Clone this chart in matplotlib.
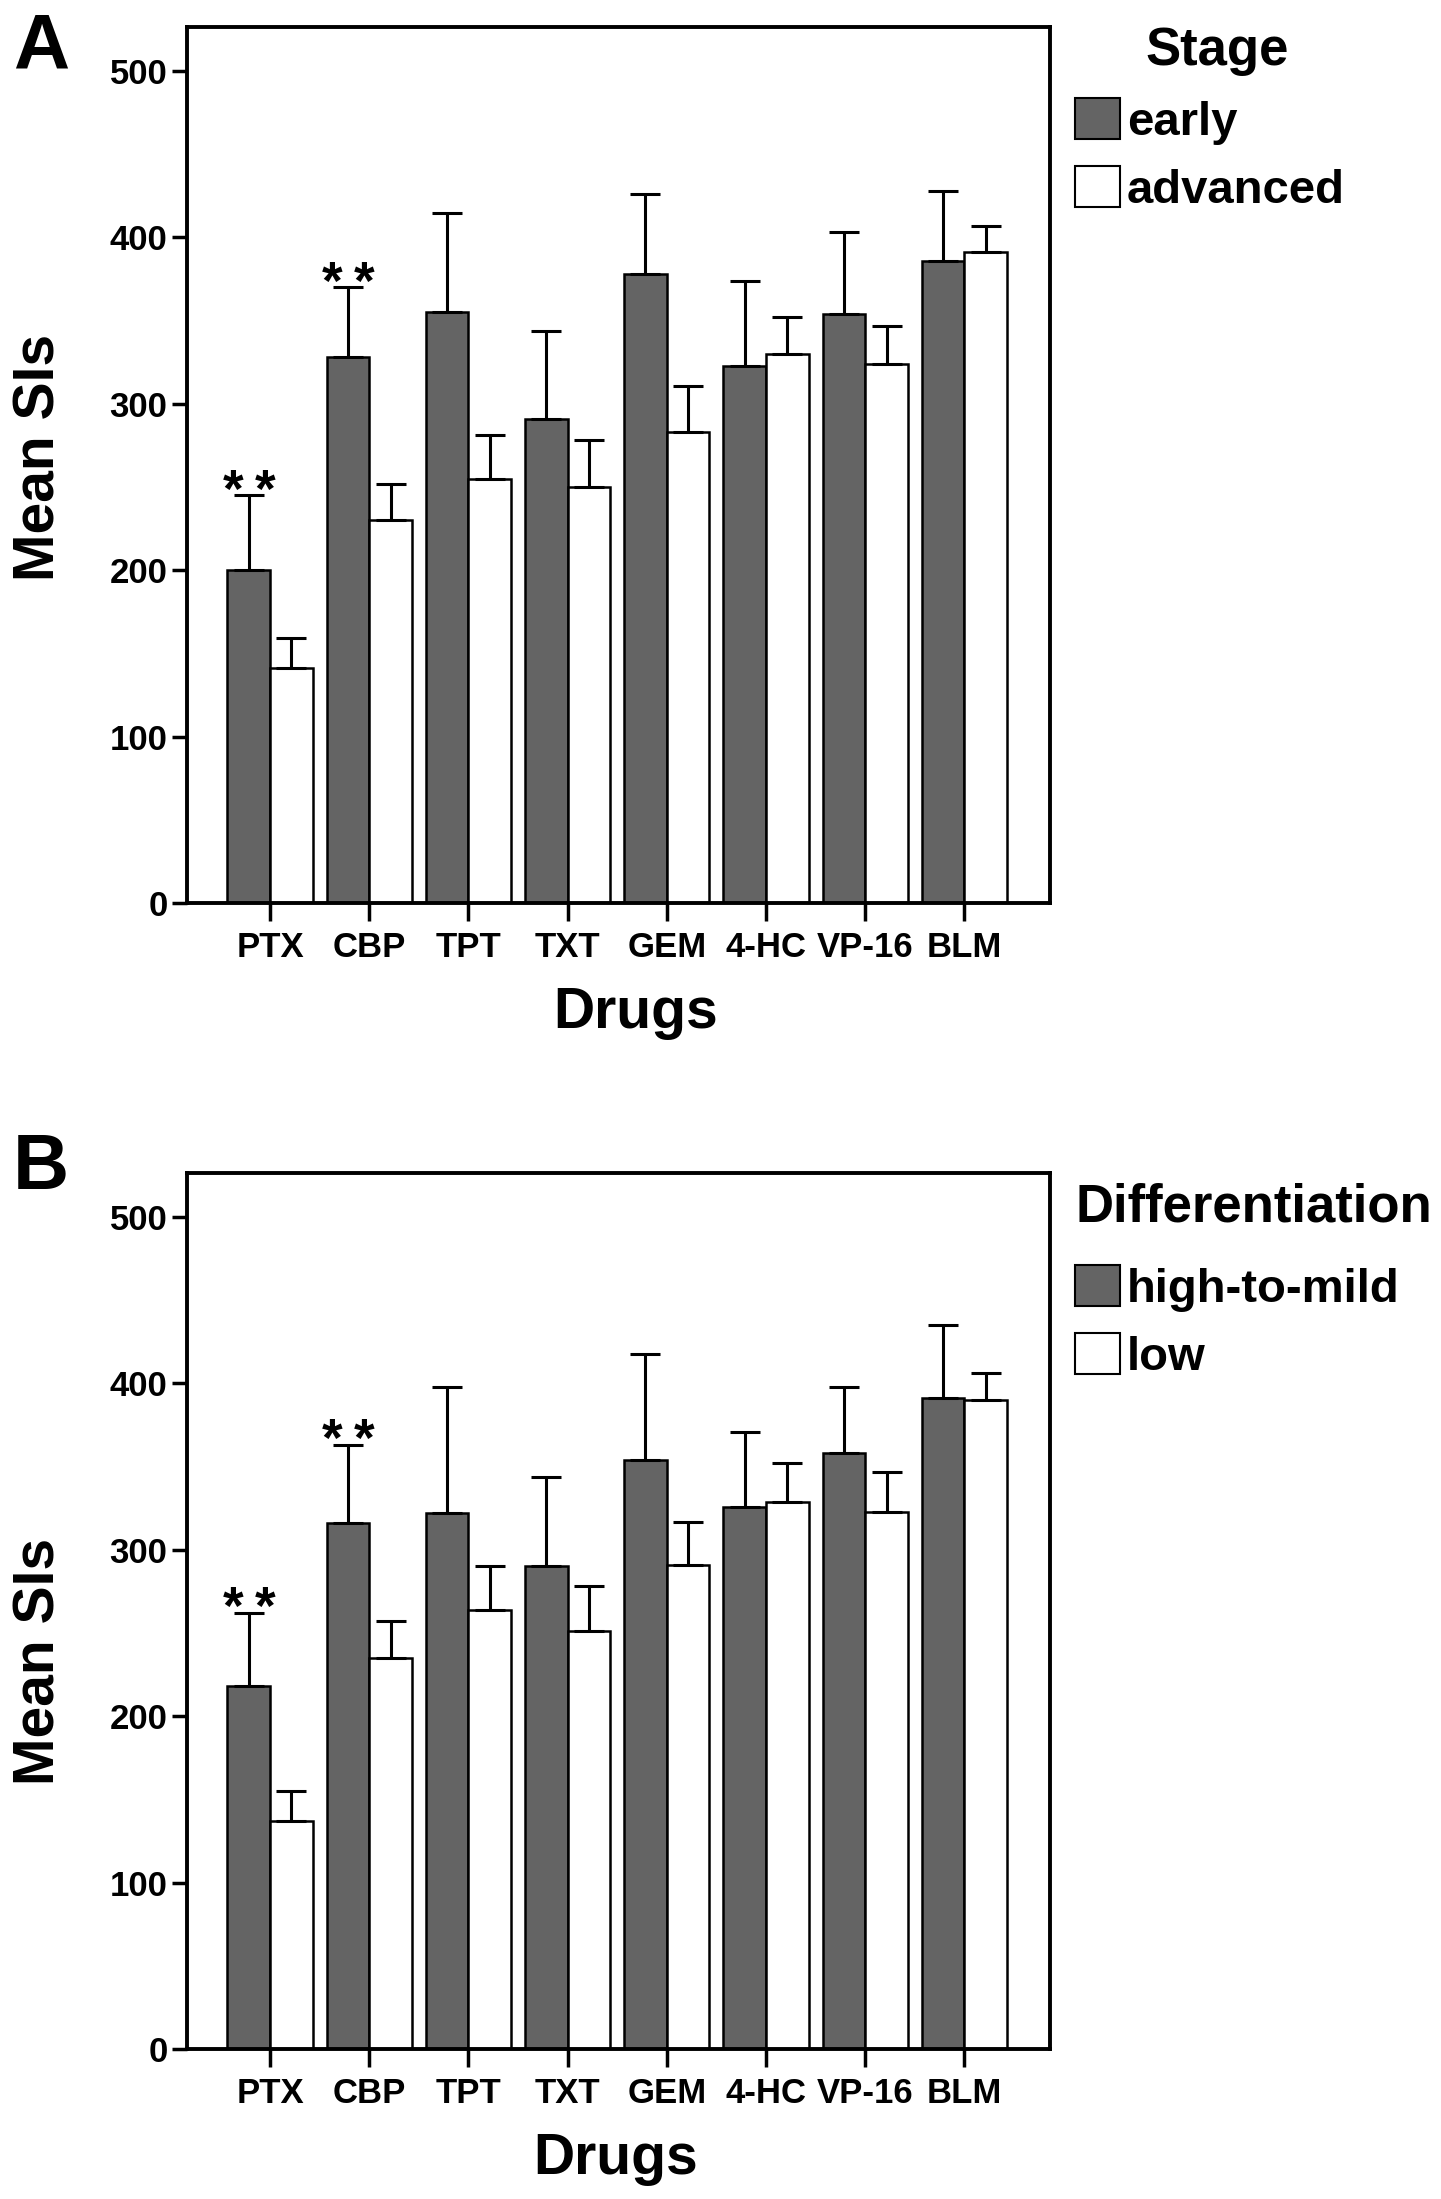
import numpy as np
import matplotlib
matplotlib.use("Agg")
import matplotlib.pyplot as plt
from matplotlib.patches import Patch

plt.rcParams['font.family'] = ['Liberation Sans', 'DejaVu Sans']
plt.rcParams['font.weight'] = 'bold'

drugs = ["PTX", "CBP", "TPT", "TXT", "GEM", "4-HC", "VP-16", "BLM"]

# panel A: stage
stage_early = [200, 328, 355, 291, 378, 323, 354, 386]
stage_early_top = [245, 370, 415, 344, 426, 374, 403, 428]
stage_adv = [141, 230, 255, 250, 283, 330, 324, 391]
stage_adv_top = [159, 252, 281, 278, 311, 352, 347, 407]

# panel B: differentiation
diff_high = [218, 316, 322, 290, 354, 326, 358, 391]
diff_high_top = [262, 363, 398, 344, 418, 371, 398, 435]
diff_low = [137, 235, 264, 251, 291, 329, 323, 390]
diff_low_top = [155, 257, 290, 278, 317, 352, 347, 406]

stars = [0, 1]  # drugs with ** over the first bar

W, H = 1441, 2199
fig = plt.figure(figsize=(W / 100, H / 100), dpi=100)

gray = "#646464"
bw = 0.43


def panel(rect, a, a_top, b, b_top, labels, title, title_xy, title_ha, leg_y, ylab_y, xlab_xy, letter, letter_y):
    ax = fig.add_axes(rect)
    x = np.arange(len(drugs))
    a = np.array(a); b = np.array(b)
    ax.bar(x - bw / 2, a, bw, color=gray, edgecolor="black", linewidth=1.8, zorder=2)
    ax.bar(x + bw / 2, b, bw, color="white", edgecolor="black", linewidth=1.8, zorder=2)
    ax.errorbar(x - bw / 2, a, yerr=[np.zeros_like(a), np.array(a_top) - a], fmt="none",
                ecolor="black", elinewidth=2.2, capsize=11, capthick=2.2, zorder=3)
    ax.errorbar(x + bw / 2, b, yerr=[np.zeros_like(b), np.array(b_top) - b], fmt="none",
                ecolor="black", elinewidth=2.2, capsize=11, capthick=2.2, zorder=3)
    for i in stars:
        for dx in (-11.5, 11.5):
            ax.annotate("*", xy=(i - bw / 2, a_top[i]), xytext=(dx, -8), textcoords="offset points",
                        ha="center", va="baseline", fontsize=38, fontweight="bold")

    ax.set_xlim(-0.837, 7.863)
    ax.set_ylim(0, 526.5)
    ax.set_yticks([0, 100, 200, 300, 400, 500])
    ax.set_xticks(x)
    ax.set_xticklabels(drugs)
    ax.tick_params(axis="x", length=13, width=2.5, pad=7, labelsize=25)
    ax.tick_params(axis="y", length=11, width=2.5, pad=3, labelsize=25)
    for s in ax.spines.values():
        s.set_linewidth(2.8)

    ax.text(-0.171, ylab_y, "Mean SIs", transform=ax.transAxes, rotation=90,
            ha="center", va="center", fontsize=41, fontweight="bold")
    ax.text(xlab_xy[0], xlab_xy[1], "Drugs", transform=ax.transAxes,
            ha="center", va="center", fontsize=41, fontweight="bold")

    handles = [Patch(facecolor=gray, edgecolor="black", linewidth=1.5),
               Patch(facecolor="white", edgecolor="black", linewidth=1.5)]
    ax.legend(handles, labels, loc="upper left", bbox_to_anchor=(1075 / W, leg_y),
              bbox_transform=fig.transFigure, frameon=False, borderpad=0, borderaxespad=0,
              handlelength=0.95, handleheight=0.95, handletextpad=0.15,
              labelspacing=0.46, prop={"weight": "bold", "size": 34})
    ax.text(title_xy[0], title_xy[1], title, transform=ax.transAxes, ha=title_ha,
            va="baseline", fontsize=38, fontweight="bold")
    fig.text(13 / W, 1 - letter_y / H, letter, ha="left", va="baseline", fontsize=56, fontweight="bold")
    return ax


panel([187 / W, 1 - 903 / H, 863 / W, 876 / H], stage_early, stage_early_top, stage_adv, stage_adv_top,
      ["early", "advanced"], "Stage", (1.1935, 0.9566), "center", 1 - 98 / H, 0.509, (0.520, -0.1256), "A", 69)
panel([187 / W, 1 - 2049 / H, 863 / W, 876 / H], diff_high, diff_high_top, diff_low, diff_low_top,
      ["high-to-mild", "low"], "Differentiation", (1.030, 0.9452), "left", 1 - 1265 / H, 0.442, (0.497, -0.125), "B", 1189)

fig.savefig("out.png", dpi=100)
